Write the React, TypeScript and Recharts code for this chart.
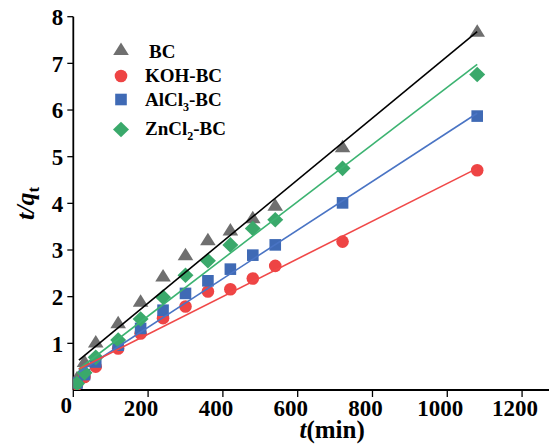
import React from 'react';
import { ComposedChart, Scatter, Line, XAxis, YAxis, Legend } from 'recharts';

// ---- data ----
const times = [10, 30, 60, 120, 180, 240, 300, 360, 420, 480, 540, 720, 1080];
const bcValues = [0.25, 0.6, 1.02, 1.43, 1.89, 2.43, 2.89, 3.21, 3.42, 3.68, 3.95, 5.2, 7.68];
const kohValues = [0.12, 0.28, 0.5, 0.89, 1.21, 1.54, 1.79, 2.11, 2.16, 2.39, 2.66, 3.18, 4.71];
const alcl3Values = [0.15, 0.33, 0.6, 0.96, 1.32, 1.71, 2.07, 2.34, 2.59, 2.89, 3.11, 4.01, 5.87];
const zncl2Values = [0.14, 0.37, 0.7, 1.07, 1.52, 1.99, 2.46, 2.77, 3.11, 3.46, 3.65, 4.75, 6.76];

const fitTimes = [15, 1080];
const bcFit = [0.64, 7.68];
const kohFit = [0.45, 4.75];
const alcl3Fit = [0.38, 5.93];
const zncl2Fit = [0.45, 6.98];

const seriesNames = ['BC', 'KOH-BC', 'AlCl3-BC', 'ZnCl2-BC'];
const xTicks = [0, 200, 400, 600, 800, 1000, 1200];
const xMinorTicks = [100, 300, 500, 700, 900, 1100];
const yTicks = [1, 2, 3, 4, 5, 6, 7, 8];
const yMinorTicks = [0.5, 1.5, 2.5, 3.5, 4.5, 5.5, 6.5, 7.5];
const xDomain = [0, 1272];
const yDomain = [0, 8];

const toPoints = (vals: number[]) => times.map((t, i) => ({ t, v: vals[i] }));
const toFit = (vals: number[]) => fitTimes.map((t, i) => ({ t, v: vals[i] }));

const FONT = '"Liberation Serif", "Times New Roman", serif';

const COLORS = {
  bc: '#6f6f6f',
  koh: '#ee4444',
  alcl3: '#3f6ab5',
  zncl2: '#3aa96b',
};
const LINE_COLORS = {
  bc: '#000000',
  koh: '#f04848',
  alcl3: '#4a74c4',
  zncl2: '#3cb371',
};

type Kind = 'triangle' | 'circle' | 'square' | 'diamond';

const drawMarker = (kind: Kind, cx: number, cy: number, fill: string) => {
  switch (kind) {
    case 'triangle':
      return <polygon points={`${cx},${cy - 7.5} ${cx + 7.8},${cy + 5} ${cx - 7.8},${cy + 5}`} fill={fill} />;
    case 'circle':
      return <circle cx={cx} cy={cy} r={6.3} fill={fill} />;
    case 'square':
      return <rect x={cx - 5.8} y={cy - 5.8} width={11.6} height={11.6} fill={fill} />;
    case 'diamond':
    default:
      return <polygon points={`${cx},${cy - 7.8} ${cx + 8},${cy} ${cx},${cy + 7.8} ${cx - 8},${cy}`} fill={fill} />;
  }
};

const makeShape = (kind: Kind, fill: string) => (props: any) => {
  const { cx, cy } = props;
  if (cx == null || cy == null) return <g />;
  return drawMarker(kind, cx, cy, fill);
};

const legendDefs: Record<string, { kind: Kind; color: string }> = {
  'BC': { kind: 'triangle', color: COLORS.bc },
  'KOH-BC': { kind: 'circle', color: COLORS.koh },
  'AlCl3-BC': { kind: 'square', color: COLORS.alcl3 },
  'ZnCl2-BC': { kind: 'diamond', color: COLORS.zncl2 },
};

const renderName = (name: string) => {
  // subscript digits
  const parts = name.split(/(\d)/).filter((p) => p.length > 0);
  return parts.map((p, i) =>
    /\d/.test(p) ? (
      <tspan key={i} fontSize={12} dy={5}>{p}</tspan>
    ) : (
      <tspan key={i} dy={i > 0 && /\d/.test(parts[i - 1]) ? -5 : 0}>{p}</tspan>
    )
  );
};

const legendRows = [
  { markerY: 12, textY: 19.5, textX: 41 },
  { markerY: 38, textY: 44, textX: 37 },
  { markerY: 61.5, textY: 68, textX: 37 },
  { markerY: 91.5, textY: 97, textX: 37 },
];

const LegendContent = () => (
  <svg width={200} height={110} style={{ overflow: 'visible' }}>
    {seriesNames.map((name, i) => {
      const def = legendDefs[name];
      const row = legendRows[i];
      return (
        <g key={name}>
          {drawMarker(def.kind, 13, row.markerY, def.color)}
          <text x={row.textX} y={row.textY} fontFamily={FONT} fontWeight="bold" fontSize={19} fill="#000">
            {renderName(name)}
          </text>
        </g>
      );
    })}
  </svg>
);

const XTick = (props: any) => {
  const { x, y, payload } = props;
  const isZero = payload.value === 0;
  return (
    <text
      x={x - 7}
      y={y + (isZero ? -3 : 0)}
      dy="0.71em"
      textAnchor="middle"
      fontFamily={FONT}
      fontWeight="bold"
      fontSize={23}
      fill="#000"
    >
      {payload.value}
    </text>
  );
};

const XLabel = (props: any) => {
  const vb = props.viewBox || { x: 0, y: 0, width: 0, height: 0 };
  return (
    <text
      x={vb.x + vb.width * 0.544}
      y={vb.y + 48}
      textAnchor="middle"
      fontFamily={FONT}
      fontWeight="bold"
      fontSize={25}
      fill="#000"
    >
      <tspan fontStyle="italic">t</tspan>
      <tspan>(min)</tspan>
    </text>
  );
};

const YLabel = (props: any) => {
  const vb = props.viewBox || { x: 0, y: 0, width: 0, height: 0 };
  const cx = vb.x + 26;
  const cy = vb.y + vb.height / 2;
  return (
    <text
      x={cx}
      y={cy}
      transform={`rotate(-90, ${cx}, ${cy})`}
      textAnchor="middle"
      fontFamily={FONT}
      fontWeight="bold"
      fontSize={26}
      fill="#000"
    >
      <tspan fontStyle="italic">t/q</tspan>
      <tspan fontSize={17} dy={5}>t</tspan>
    </text>
  );
};

const axisLine = { stroke: '#000', strokeWidth: 1.8 };
const tickLine = { stroke: '#000', strokeWidth: 1.3 };

export default function App() {
  return (
    <div style={{ width: 549, height: 446, overflow: 'hidden' }}>
      <style>{'html, body { margin: 0; padding: 0; overflow: hidden; }'}</style>
      <ComposedChart width={549} height={446} margin={{ top: 16.7, right: 0, bottom: 0, left: 8 }}>
        {/* minor tick axes (zero size, rendered first so they sit against the plot) */}
        <XAxis
          xAxisId="xm"
          type="number"
          dataKey="t"
          domain={xDomain}
          ticks={xMinorTicks}
          height={0}
          tickSize={4}
          tickLine={tickLine}
          axisLine={false}
          tick={() => <g />}
          allowDataOverflow
        />
        <YAxis
          yAxisId="ym"
          type="number"
          dataKey="v"
          domain={yDomain}
          ticks={yMinorTicks}
          width={0}
          tickSize={3}
          tickLine={tickLine}
          axisLine={false}
          tick={() => <g />}
          allowDataOverflow
        />
        <XAxis
          xAxisId="xt"
          orientation="top"
          type="number"
          dataKey="t"
          domain={xDomain}
          height={0}
          tick={false}
          tickLine={false}
          axisLine={axisLine}
          allowDataOverflow
        />
        <XAxis
          type="number"
          dataKey="t"
          domain={xDomain}
          ticks={xTicks}
          height={56}
          tickSize={7}
          tickMargin={3}
          tickLine={tickLine}
          axisLine={axisLine}
          tick={<XTick />}
          allowDataOverflow
          label={{ content: (p: any) => <XLabel {...p} /> }}
        />
        <YAxis
          type="number"
          dataKey="v"
          domain={yDomain}
          ticks={yTicks}
          width={65.3}
          tickSize={6}
          tickMargin={4}
          tickLine={tickLine}
          axisLine={axisLine}
          tick={{ fontFamily: FONT, fontWeight: 'bold', fontSize: 23, fill: '#000' }}
          allowDataOverflow
          label={{ content: (p: any) => <YLabel {...p} /> }}
        />
        <Legend
          layout="vertical"
          align="center"
          verticalAlign="middle"
          content={() => <LegendContent />}
          wrapperStyle={{ left: 108, top: 38, width: 200, height: 110 }}
        />
        <Scatter name="BC" data={toPoints(bcValues)} fill={COLORS.bc} shape={makeShape('triangle', COLORS.bc)} isAnimationActive={false} />
        <Scatter name="KOH-BC" data={toPoints(kohValues)} fill={COLORS.koh} shape={makeShape('circle', COLORS.koh)} isAnimationActive={false} />
        <Scatter name="AlCl3-BC" data={toPoints(alcl3Values)} fill={COLORS.alcl3} shape={makeShape('square', COLORS.alcl3)} isAnimationActive={false} />
        <Scatter name="ZnCl2-BC" data={toPoints(zncl2Values)} fill={COLORS.zncl2} shape={makeShape('diamond', COLORS.zncl2)} isAnimationActive={false} />
        <Line data={toFit(bcFit)} dataKey="v" stroke={LINE_COLORS.bc} strokeWidth={1.6} dot={false} activeDot={false} legendType="none" isAnimationActive={false} zIndex={700} />
        <Line data={toFit(zncl2Fit)} dataKey="v" stroke={LINE_COLORS.zncl2} strokeWidth={1.6} dot={false} activeDot={false} legendType="none" isAnimationActive={false} zIndex={700} />
        <Line data={toFit(alcl3Fit)} dataKey="v" stroke={LINE_COLORS.alcl3} strokeWidth={1.6} dot={false} activeDot={false} legendType="none" isAnimationActive={false} zIndex={700} />
        <Line data={toFit(kohFit)} dataKey="v" stroke={LINE_COLORS.koh} strokeWidth={1.6} dot={false} activeDot={false} legendType="none" isAnimationActive={false} zIndex={700} />
      </ComposedChart>
    </div>
  );
}
